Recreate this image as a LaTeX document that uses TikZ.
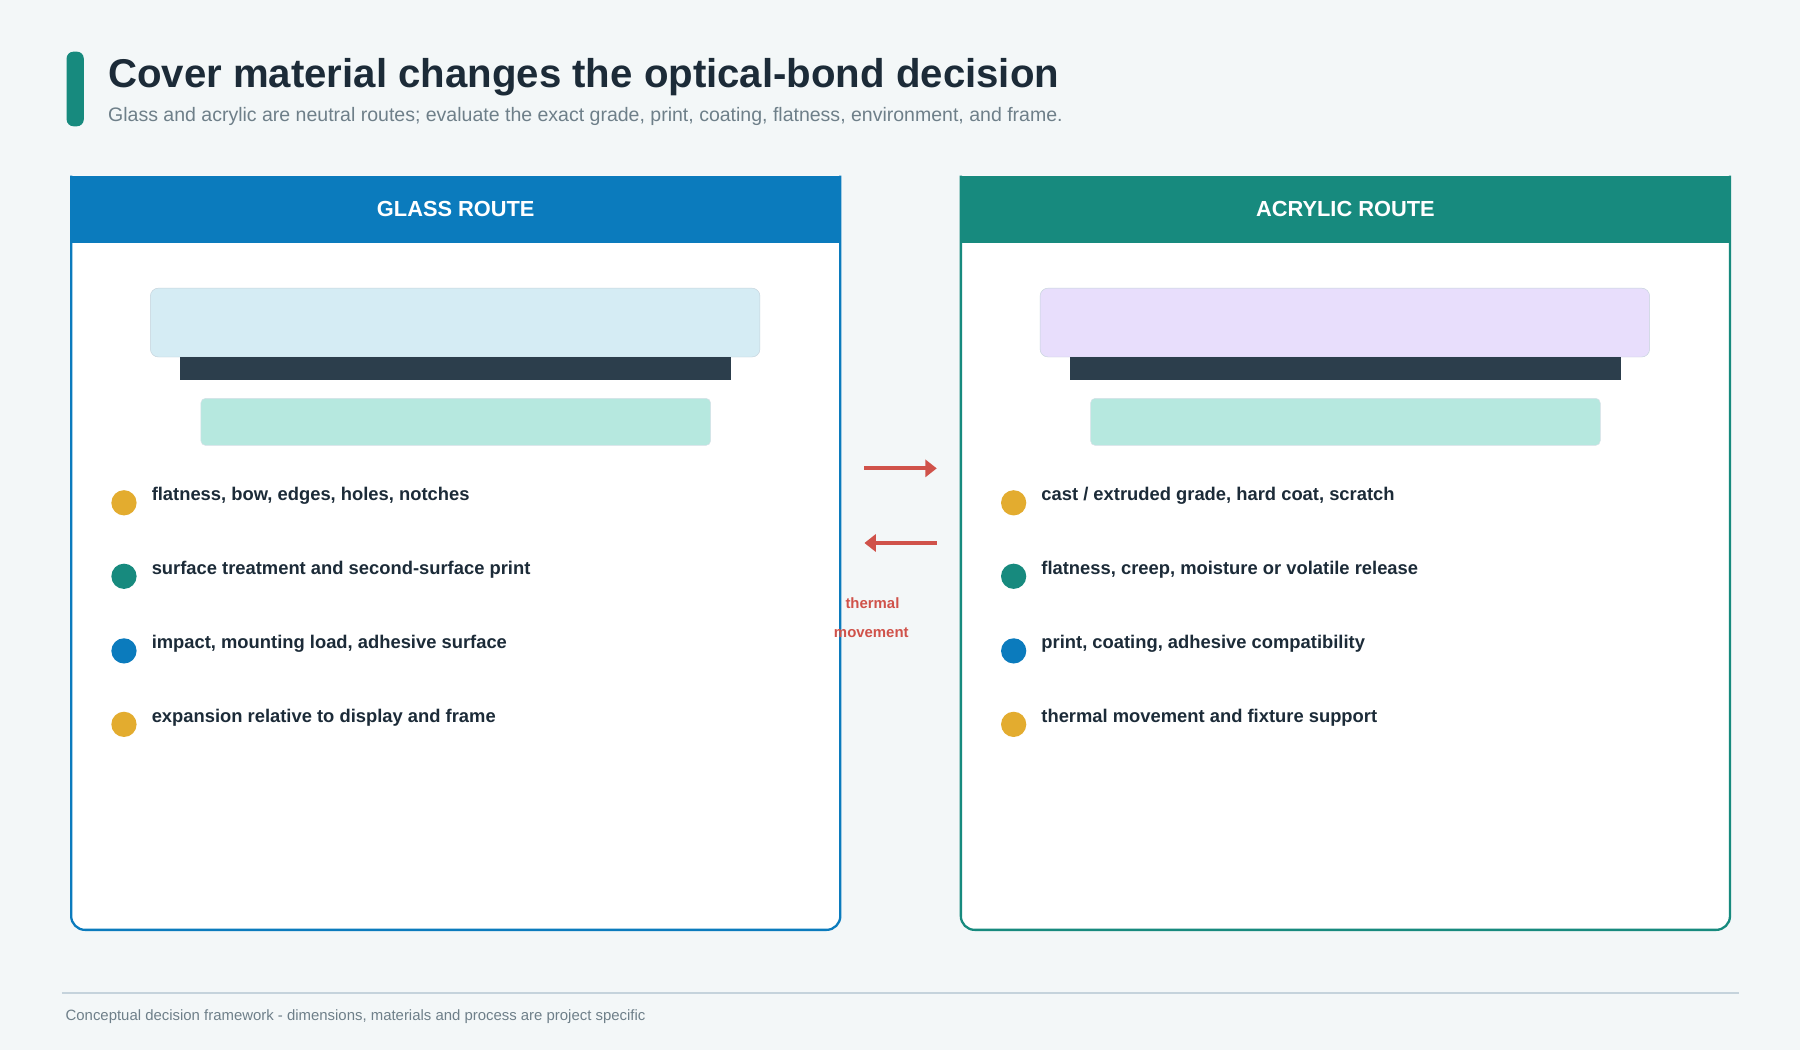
\documentclass[tikz,border=0pt]{standalone}
\usepackage{fontspec}
\setmainfont{Liberation Sans}
\usetikzlibrary{arrows.meta}
\definecolor{bg}{HTML}{F3F7F8}
\definecolor{teal}{HTML}{178A7E}
\definecolor{blu}{HTML}{0B7BBD}
\definecolor{gold}{HTML}{E3AC2F}
\definecolor{ink}{HTML}{1C2B38}
\definecolor{sub}{HTML}{6E7F89}
\definecolor{dark}{HTML}{2C3E4C}
\definecolor{mint}{HTML}{B6E8DF}
\definecolor{lblue}{HTML}{D5ECF4}
\definecolor{lav}{HTML}{E8DEFC}
\definecolor{edge}{HTML}{C5D3DC}
\definecolor{red}{HTML}{D0524A}
\tikzset{
 bul/.style={anchor=west,font=\fontsize{16}{18}\selectfont\bfseries,text=ink,inner sep=0},
 dot/.style={circle,minimum size=22pt,inner sep=0},
 hdr/.style={font=\fontsize{19}{22}\selectfont\bfseries,text=white},
 arr/.style={red,line width=3.5pt,-{Triangle[length=10pt,width=15pt]}},
 lab/.style={font=\fontsize{13}{15}\selectfont\bfseries,text=red}
}
\begin{document}
\begin{tikzpicture}[x=1pt,y=-1pt]
\fill[bg] (0,0) rectangle (1568,915);
\useasboundingbox (0,0) rectangle (1568,915);
\fill[teal,rounded corners=6pt] (58,45) rectangle (73,110);
\node[anchor=base west,inner sep=0,font=\fontsize{35}{40}\selectfont\bfseries,text=ink] (title) at (94,76) {Cover material changes the optical-bond decision};
\node[anchor=base west,inner sep=0,font=\fontsize{17}{20}\selectfont,text=sub] (subt) at (94,106) {Glass and acrylic are neutral routes; evaluate the exact grade, print, coating, flatness, environment, and frame.};
% panels
\foreach \x/\c/\t/\top/\nm in {62/blu/GLASS ROUTE/lblue/g, 837/teal/ACRYLIC ROUTE/lav/a}{
 \draw[\c,line width=2pt,fill=white,rounded corners=12pt] (\x,153) -- (\x,810) -- (\x+670,810) -- (\x+670,153);
 \fill[\c] (\x-1,153) rectangle (\x+671,212);
 \node[hdr] (h\nm) at (\x+335,182) {\t};
 \draw[edge,fill=\top,rounded corners=7pt] (\x+69,251) rectangle (\x+600,311);
 \fill[dark] (\x+95,311) rectangle (\x+575,331);
 \draw[edge!70,fill=mint,rounded corners=4pt] (\x+113,347) rectangle (\x+557,388);
}
\foreach \y/\c/\t [count=\i] in {438/gold/{flatness, bow, edges, holes, notches},502/teal/{surface treatment and second-surface print},567/blu/{impact, mounting load, adhesive surface},631/gold/{expansion relative to display and frame}}{
 \node[dot,fill=\c] (gd\i) at (108,\y) {};
 \node[bul] (gt\i) at (132,\y-6) {\t};
}
\foreach \y/\c/\t [count=\i] in {438/gold/{cast / extruded grade, hard coat, scratch},502/teal/{flatness, creep, moisture or volatile release},567/blu/{print, coating, adhesive compatibility},631/gold/{thermal movement and fixture support}}{
 \node[dot,fill=\c] (ad\i) at (883,\y) {};
 \node[bul] (at\i) at (907,\y-6) {\t};
}
\coordinate (r1) at (753,408); \coordinate (r2) at (816,408);
\coordinate (l1) at (816,473); \coordinate (l2) at (753,473);
\draw[arr] (r1) -- (r2);
\draw[arr] (l1) -- (l2);
\node[lab] (t1) at (760,525) {thermal};
\node[lab] (t2) at (759,551) {movement};
\draw[edge,line width=1pt] (54,865) -- (1515,865);
\node[anchor=west,inner sep=0,font=\fontsize{13}{15}\selectfont,text=sub] (foot) at (57,886) {Conceptual decision framework - dimensions, materials and process are project specific};
\end{tikzpicture}
\end{document}
